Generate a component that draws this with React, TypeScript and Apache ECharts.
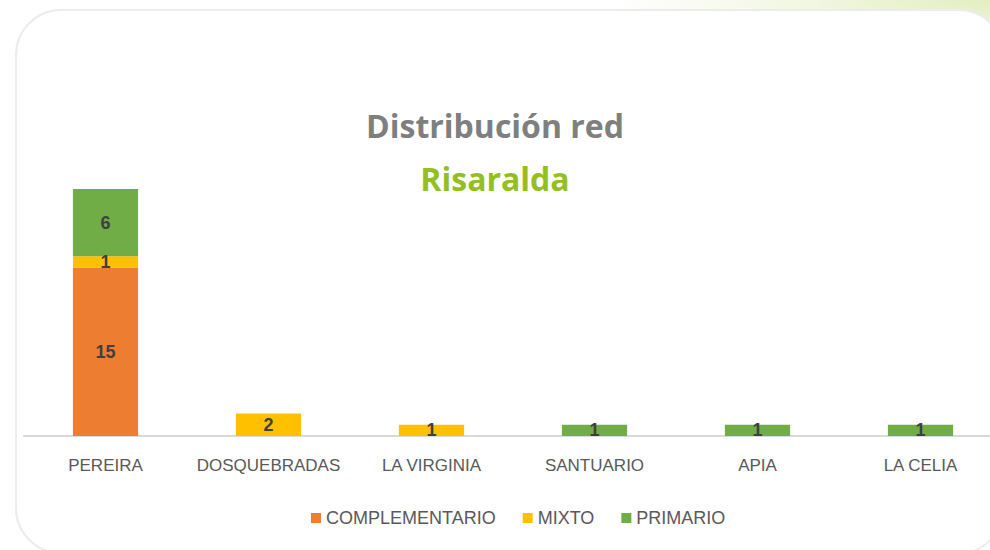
import React, { useEffect, useRef } from "react";
import * as echarts from "echarts";

const categories = ["PEREIRA", "DOSQUEBRADAS", "LA VIRGINIA", "SANTUARIO", "APIA", "LA CELIA"];
const complementario = [15, null, null, null, null, null];
const mixto = [1, 2, 1, null, null, null];
const primario = [6, null, null, 1, 1, 1];
const titleText = "Distribución red";
const subtitleText = "Risaralda";

const FONT = "'Liberation Sans', sans-serif";

export default function App() {
  const ref = useRef<HTMLDivElement>(null);
  useEffect(() => {
    document.body.style.margin = "0";
    const chart = echarts.init(ref.current!, null, { renderer: "svg" });
    const label = {
      show: true,
      position: "inside",
      color: "#404040",
      fontSize: 18,
      fontWeight: "bold",
      fontFamily: FONT,
    };
    chart.setOption({
      animation: false,
      backgroundColor: "transparent",
      title: [
        {
          text: titleText,
          left: "center",
          top: 104,
          textStyle: { fontFamily: "'Open Sans', sans-serif", fontSize: 32, fontWeight: "bold", color: "#7f7f7f" },
        },
        {
          text: subtitleText,
          left: "center",
          top: 157,
          textStyle: { fontFamily: "'Open Sans', sans-serif", fontSize: 32, fontWeight: "bold", color: "#93c01f" },
        },
      ],
      legend: {
        bottom: 18,
        left: 306,
        itemWidth: 10,
        itemHeight: 10,
        itemGap: 27,
        icon: "rect",
        textStyle: { fontFamily: FONT, fontSize: 18, color: "#595959" },
        data: ["COMPLEMENTARIO", "MIXTO", "PRIMARIO"],
      },
      grid: { left: 24, width: 978, top: 189, bottom: 114, containLabel: false, outerBoundsMode: "none" },
      xAxis: {
        type: "category",
        data: categories,
        axisLine: { lineStyle: { color: "#d9d9d9", width: 2 } },
        axisTick: { show: false },
        axisLabel: { fontFamily: FONT, fontSize: 17, color: "#595959", margin: 21, interval: 0 },
      },
      yAxis: { type: "value", min: 0, max: 22, show: false, splitLine: { show: false } },
      series: [
        { name: "COMPLEMENTARIO", type: "bar", stack: "a", data: complementario, itemStyle: { color: "#ed7d31" }, barCategoryGap: "60%", label },
        { name: "MIXTO", type: "bar", stack: "a", data: mixto, itemStyle: { color: "#ffc000" }, label },
        { name: "PRIMARIO", type: "bar", stack: "a", data: primario, itemStyle: { color: "#70ad47" }, label },
      ],
    });
    return () => chart.dispose();
  }, []);
  return (
    <div
      style={{
        position: "absolute",
        left: 0,
        top: 0,
        width: 990,
        height: 550,
        overflow: "hidden",
        background: "radial-gradient(ellipse 380px 70px at 100% 0%, #e2eec0 0%, #f2f7e2 50%, #ffffff 100%)",
      }}
    >
      <div
        style={{
          position: "absolute",
          left: 15,
          top: 9,
          width: 990,
          height: 545,
          borderRadius: 46,
          border: "2px solid #ececec",
          background: "#ffffff",
          boxSizing: "border-box",
        }}
      />
      <div ref={ref} style={{ position: "absolute", left: 0, top: 0, width: 990, height: 550 }} />
    </div>
  );
}
